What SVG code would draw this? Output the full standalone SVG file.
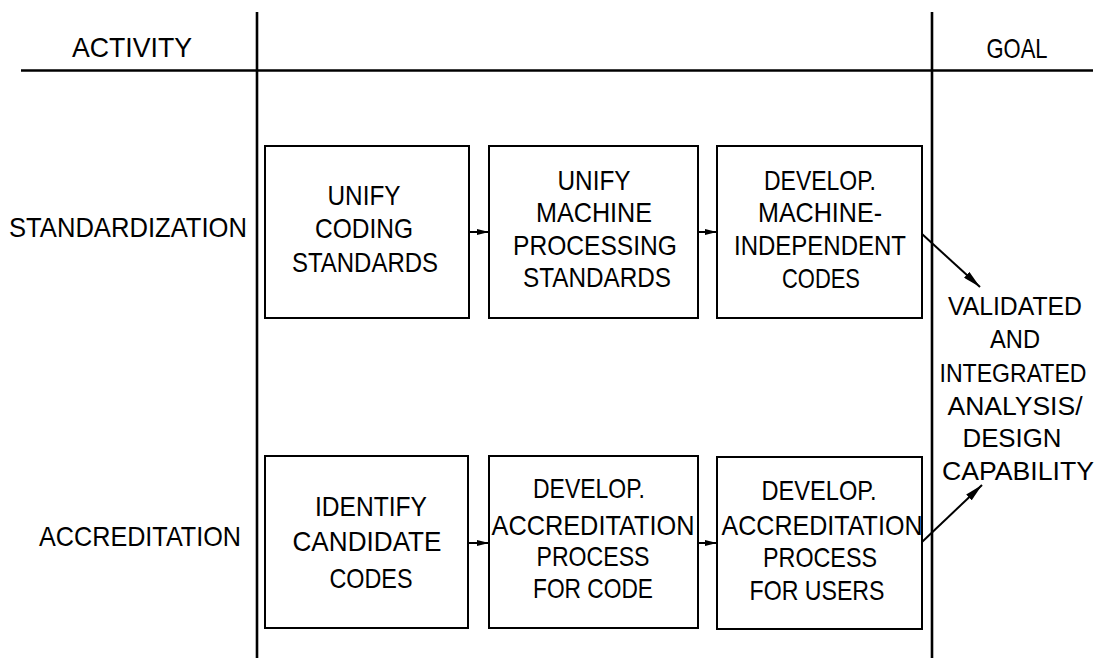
<svg xmlns="http://www.w3.org/2000/svg" width="1103" height="658" viewBox="0 0 1103 658">
  <style>
    .rule { stroke: #000; stroke-width: 2.6; fill: none; }
    .box { stroke: #000; stroke-width: 2; fill: #fff; }
    .conn { stroke: #000; stroke-width: 2; fill: none; }
    text { font-family: "Liberation Sans", Arial, sans-serif; font-size: 28px; fill: #000; text-anchor: middle; }
    #goal text { font-size: 26px; }
  </style>
  <defs>
    <marker id="head-s" viewBox="0 0 12 6" markerWidth="12" markerHeight="6" refX="12" refY="3" orient="auto" markerUnits="userSpaceOnUse">
      <path d="M0,0 L12,3 L0,6 z" fill="#000"/>
    </marker>
    <marker id="head-l" viewBox="0 0 18 8" markerWidth="18" markerHeight="8" refX="18" refY="4" orient="auto" markerUnits="userSpaceOnUse">
      <path d="M0,0 L18,4 L0,8 z" fill="#000"/>
    </marker>
  </defs>

  <!-- table frame: header rule and column dividers -->
  <g id="frame">
    <line class="rule" x1="21" y1="70.5" x2="1093" y2="70.5"/>
    <line class="rule" x1="257" y1="12" x2="257" y2="658"/>
    <line class="rule" x1="932" y1="12" x2="932" y2="658"/>
  </g>

  <!-- column headings -->
  <g id="head-activity"><text x="132" y="57" textLength="120" lengthAdjust="spacingAndGlyphs">ACTIVITY</text></g>
  <g id="head-goal"><text x="1017" y="58" textLength="61" lengthAdjust="spacingAndGlyphs">GOAL</text></g>

  <!-- row labels -->
  <g id="row-standardization"><text x="128" y="237" textLength="238" lengthAdjust="spacingAndGlyphs">STANDARDIZATION</text></g>
  <g id="row-accreditation"><text x="140" y="546" textLength="202" lengthAdjust="spacingAndGlyphs">ACCREDITATION</text></g>

  <!-- standardization row -->
  <g id="unify-coding">
    <rect class="box" x="265" y="146" width="204" height="172"/>
    <text x="364" y="205" textLength="73" lengthAdjust="spacingAndGlyphs">UNIFY</text>
    <text x="364" y="238" textLength="98" lengthAdjust="spacingAndGlyphs">CODING</text>
    <text x="365" y="272" textLength="146" lengthAdjust="spacingAndGlyphs">STANDARDS</text>
  </g>
  <g id="unify-machine">
    <rect class="box" x="489" y="146" width="209" height="172"/>
    <text x="594" y="190" textLength="73" lengthAdjust="spacingAndGlyphs">UNIFY</text>
    <text x="594" y="222" textLength="116" lengthAdjust="spacingAndGlyphs">MACHINE</text>
    <text x="595" y="255" textLength="164" lengthAdjust="spacingAndGlyphs">PROCESSING</text>
    <text x="597" y="287" textLength="148" lengthAdjust="spacingAndGlyphs">STANDARDS</text>
  </g>
  <g id="machine-independent">
    <rect class="box" x="717" y="146" width="205" height="172"/>
    <text x="820" y="190" textLength="112" lengthAdjust="spacingAndGlyphs">DEVELOP.</text>
    <text x="820" y="222" textLength="124" lengthAdjust="spacingAndGlyphs">MACHINE-</text>
    <text x="820" y="255" textLength="172" lengthAdjust="spacingAndGlyphs">INDEPENDENT</text>
    <text x="821" y="288" textLength="78" lengthAdjust="spacingAndGlyphs">CODES</text>
  </g>

  <!-- accreditation row -->
  <g id="identify-codes">
    <rect class="box" x="265" y="456" width="203" height="172"/>
    <text x="371" y="516" textLength="112" lengthAdjust="spacingAndGlyphs">IDENTIFY</text>
    <text x="367" y="551" textLength="149" lengthAdjust="spacingAndGlyphs">CANDIDATE</text>
    <text x="371" y="588" textLength="83" lengthAdjust="spacingAndGlyphs">CODES</text>
  </g>
  <g id="accredit-code">
    <rect class="box" x="489" y="456" width="209" height="172"/>
    <text x="589" y="498" textLength="112" lengthAdjust="spacingAndGlyphs">DEVELOP.</text>
    <text x="593" y="535" textLength="203" lengthAdjust="spacingAndGlyphs">ACCREDITATION</text>
    <text x="593" y="566" textLength="113" lengthAdjust="spacingAndGlyphs">PROCESS</text>
    <text x="593" y="598" textLength="120" lengthAdjust="spacingAndGlyphs">FOR CODE</text>
  </g>
  <g id="accredit-users">
    <rect class="box" x="717" y="457" width="205" height="172"/>
    <text x="819" y="500" textLength="115" lengthAdjust="spacingAndGlyphs">DEVELOP.</text>
    <text x="822" y="535" textLength="201" lengthAdjust="spacingAndGlyphs">ACCREDITATION</text>
    <text x="820" y="567" textLength="114" lengthAdjust="spacingAndGlyphs">PROCESS</text>
    <text x="817" y="600" textLength="135" lengthAdjust="spacingAndGlyphs">FOR USERS</text>
  </g>

  <!-- goal -->
  <g id="goal">
    <text x="1015" y="315" textLength="134" lengthAdjust="spacingAndGlyphs">VALIDATED</text>
    <text x="1015" y="348" textLength="50" lengthAdjust="spacingAndGlyphs">AND</text>
    <text x="1013" y="382" textLength="147" lengthAdjust="spacingAndGlyphs">INTEGRATED</text>
    <text x="1015" y="415" textLength="135" lengthAdjust="spacingAndGlyphs">ANALYSIS/</text>
    <text x="1012" y="447" textLength="99" lengthAdjust="spacingAndGlyphs">DESIGN</text>
    <text x="1018" y="480" textLength="152" lengthAdjust="spacingAndGlyphs">CAPABILITY</text>
  </g>

  <!-- connectors -->
  <g id="connectors">
    <line class="conn" x1="469" y1="232" x2="489" y2="232" marker-end="url(#head-s)"/>
    <line class="conn" x1="698" y1="232" x2="717" y2="232" marker-end="url(#head-s)"/>
    <line class="conn" x1="468" y1="543" x2="489" y2="543" marker-end="url(#head-s)"/>
    <line class="conn" x1="698" y1="543" x2="717" y2="543" marker-end="url(#head-s)"/>
    <line class="conn" x1="922" y1="234" x2="980" y2="287" marker-end="url(#head-l)"/>
    <line class="conn" x1="922" y1="542" x2="982" y2="485" marker-end="url(#head-l)"/>
  </g>
</svg>
